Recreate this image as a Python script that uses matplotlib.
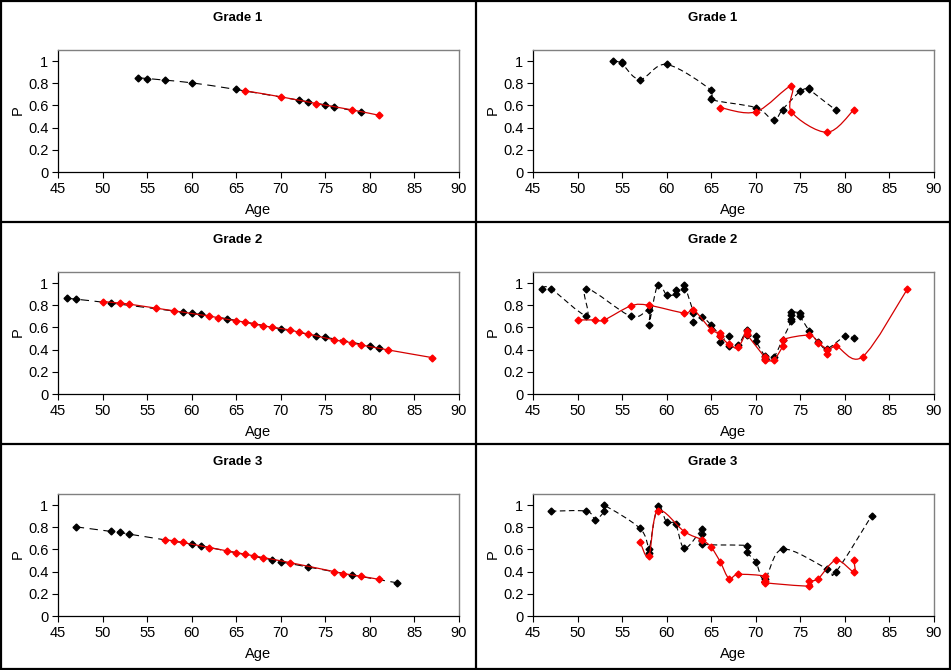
import numpy as np
import matplotlib
matplotlib.use("Agg")
import matplotlib.pyplot as plt
from matplotlib.path import Path
from matplotlib.patches import PathPatch
from matplotlib.lines import Line2D

plt.rcParams['font.family'] = ['Liberation Sans', 'DejaVu Sans']
plt.rcParams['lines.scale_dashes'] = False

# ---- data ----
titles = ["Grade 1", "Grade 2", "Grade 3"]
x_ticks = [45, 50, 55, 60, 65, 70, 75, 80, 85, 90]
y_ticks = [0, 0.2, 0.4, 0.6, 0.8, 1]

# left column (model)
g1_fit_black_x = [54, 55, 57, 60, 65, 72, 73, 75, 76, 79]
g1_fit_black_y = [0.849, 0.843, 0.828, 0.804, 0.744, 0.648, 0.633, 0.605, 0.587, 0.539]
g1_fit_red_x = [66, 70, 74, 78, 81]
g1_fit_red_y = [0.732, 0.678, 0.617, 0.56, 0.512]

g2_fit_black_x = [46, 47, 51, 59, 60, 61, 64, 70, 74, 75, 80, 81]
g2_fit_black_y = [0.864, 0.855, 0.819, 0.738, 0.729, 0.717, 0.678, 0.587, 0.524, 0.512, 0.434, 0.413]
g2_fit_red_x = [50, 52, 53, 56, 58, 62, 63, 65, 66, 67, 68, 69, 71, 72, 73, 76, 77, 78, 79, 82, 87]
g2_fit_red_y = [0.834, 0.819, 0.81, 0.774, 0.75, 0.702, 0.687, 0.66, 0.648, 0.633, 0.617, 0.602,
                0.578, 0.557, 0.542, 0.488, 0.476, 0.461, 0.443, 0.398, 0.328]

g3_fit_black_x = [47, 51, 52, 53, 60, 61, 69, 70, 73, 78, 83]
g3_fit_black_y = [0.804, 0.762, 0.753, 0.738, 0.648, 0.633, 0.506, 0.488, 0.443, 0.37, 0.30]
g3_fit_red_x = [57, 58, 59, 62, 64, 65, 66, 67, 68, 71, 76, 77, 79, 81]
g3_fit_red_y = [0.687, 0.678, 0.663, 0.617, 0.587, 0.572, 0.557, 0.542, 0.527, 0.482, 0.40, 0.383, 0.358, 0.331]

# right column (observed)
g1_obs_black_x = [54, 55, 55, 57, 60, 65, 65, 70, 72, 73, 75, 76, 76, 79]
g1_obs_black_y = [1.0, 0.99, 0.98, 0.834, 0.97, 0.738, 0.654, 0.58, 0.467, 0.563, 0.729, 0.753, 0.744, 0.557]
g1_obs_red_x = [66, 70, 74, 74, 78, 81]
g1_obs_red_y = [0.581, 0.542, 0.774, 0.542, 0.358, 0.56]

g2_obs_black_x = [46, 47, 51, 51, 56, 58, 58, 59, 60, 61, 61, 62, 62, 63, 63, 64, 65, 66, 66, 67, 67,
                  68, 69, 69, 70, 70, 71, 71, 72, 73, 74, 74, 74, 74, 75, 75, 76, 77, 78, 80, 81]
g2_obs_black_y = [0.95, 0.95, 0.707, 0.95, 0.70, 0.76, 0.62, 0.985, 0.894, 0.90, 0.94, 0.95, 0.985,
                  0.73, 0.65, 0.69, 0.62, 0.52, 0.47, 0.52, 0.43, 0.44, 0.58, 0.53, 0.52, 0.48,
                  0.34, 0.32, 0.33, 0.49, 0.66, 0.68, 0.71, 0.74, 0.73, 0.70, 0.57, 0.47, 0.41,
                  0.52, 0.503]
g2_obs_red_x = [50, 52, 53, 56, 58, 62, 63, 65, 66, 66, 67, 68, 69, 69, 71, 71, 72, 73, 73, 76, 77,
                78, 78, 79, 82, 87]
g2_obs_red_y = [0.668, 0.668, 0.668, 0.795, 0.80, 0.73, 0.76, 0.58, 0.55, 0.52, 0.45, 0.42, 0.57,
                0.54, 0.33, 0.31, 0.307, 0.43, 0.49, 0.53, 0.46, 0.40, 0.36, 0.43, 0.337, 0.945]

g3_obs_black_x = [47, 51, 52, 53, 53, 57, 58, 58, 59, 60, 61, 62, 64, 64, 64, 69, 69, 70, 71, 73,
                  78, 79, 83]
g3_obs_black_y = [0.945, 0.945, 0.87, 0.945, 0.997, 0.79, 0.60, 0.57, 0.99, 0.845, 0.83, 0.61,
                  0.785, 0.74, 0.65, 0.634, 0.573, 0.49, 0.33, 0.603, 0.427, 0.40, 0.904]
g3_obs_red_x = [57, 58, 59, 62, 64, 65, 66, 67, 68, 71, 71, 71, 76, 76, 77, 79, 81, 81]
g3_obs_red_y = [0.67, 0.54, 0.95, 0.76, 0.685, 0.62, 0.49, 0.336, 0.375, 0.36, 0.315, 0.30,
                0.27, 0.315, 0.336, 0.503, 0.398, 0.503]

panels = [
    [(g1_fit_black_x, g1_fit_black_y, g1_fit_red_x, g1_fit_red_y),
     (g1_obs_black_x, g1_obs_black_y, g1_obs_red_x, g1_obs_red_y)],
    [(g2_fit_black_x, g2_fit_black_y, g2_fit_red_x, g2_fit_red_y),
     (g2_obs_black_x, g2_obs_black_y, g2_obs_red_x, g2_obs_red_y)],
    [(g3_fit_black_x, g3_fit_black_y, g3_fit_red_x, g3_fit_red_y),
     (g3_obs_black_x, g3_obs_black_y, g3_obs_red_x, g3_obs_red_y)],
]

W, H = 951, 670


def smooth_path(x, y):
    # Excel-like smoothed line: Bezier segments through the points
    pts = np.column_stack([x, y]).astype(float)
    n = len(pts)
    verts = [pts[0]]
    codes = [Path.MOVETO]
    for i in range(n - 1):
        p0 = pts[max(i - 1, 0)]
        p1 = pts[i]
        p2 = pts[i + 1]
        p3 = pts[min(i + 2, n - 1)]
        verts += [p1 + (p2 - p0) / 6, p2 - (p3 - p1) / 6, p2]
        codes += [Path.CURVE4] * 3
    return Path(verts, codes)


def fx(px):
    return px / W


def fy(py):
    return 1 - py / H


fig = plt.figure(figsize=(W / 100, H / 100), dpi=100)
fig.patch.set_facecolor('white')

for r in range(3):
    for c in range(2):
        bx, by, rx, ry = panels[r][c]
        ox, oy = c * 475, r * 222
        left, top, w, h = ox + 58, oy + 50, 401, 122
        ax = fig.add_axes([fx(left), fy(top + h), w / W, h / H])

        dash = (0, (6, 4)) if c == 0 else (0, (4, 2.5))
        ax.add_patch(PathPatch(smooth_path(bx, by), fill=False, edgecolor='black',
                               lw=0.8, linestyle=dash, zorder=2))
        ax.plot(bx, by, linestyle='none', marker='D', markersize=3.5,
                color='black', zorder=3)
        ax.add_patch(PathPatch(smooth_path(rx, ry), fill=False, edgecolor='#d40000',
                               lw=0.9, zorder=4))
        ax.plot(rx, ry, linestyle='none', marker='D', markersize=3.5,
                color='#ff0000', zorder=5)

        ax.set_xlim(45, 90)
        ax.set_ylim(0, 1.1)
        ax.set_xticks(x_ticks)
        ax.set_yticks(y_ticks)
        ax.set_yticklabels([f"{v:g}" for v in y_ticks])
        ax.tick_params(direction='out', length=4, width=0.8, labelsize=10.5, pad=3)
        for s in ['top', 'right']:
            ax.spines[s].set_color('#808080')
            ax.spines[s].set_linewidth(1)
        for s in ['left', 'bottom']:
            ax.spines[s].set_color('black')
            ax.spines[s].set_linewidth(0.9)

        fig.text(fx(ox + 237.5), fy(oy + 18), titles[r], ha='center', va='center',
                 fontsize=9.5, fontweight='bold')
        fig.text(fx(left + w / 2), fy(oy + 210), "Age", ha='center', va='center', fontsize=10.5)
        fig.text(fx(ox + 18), fy(oy + 110), "P", ha='center', va='center',
                 rotation=90, fontsize=10.5)

# panel borders
for xp in [1, 476, 950]:
    fig.add_artist(Line2D([fx(xp), fx(xp)], [0, 1], color='black', lw=1.6))
for yp in [1, 222, 444, 669]:
    fig.add_artist(Line2D([0, 1], [fy(yp), fy(yp)], color='black', lw=1.6))

fig.savefig("out.png", dpi=100)
